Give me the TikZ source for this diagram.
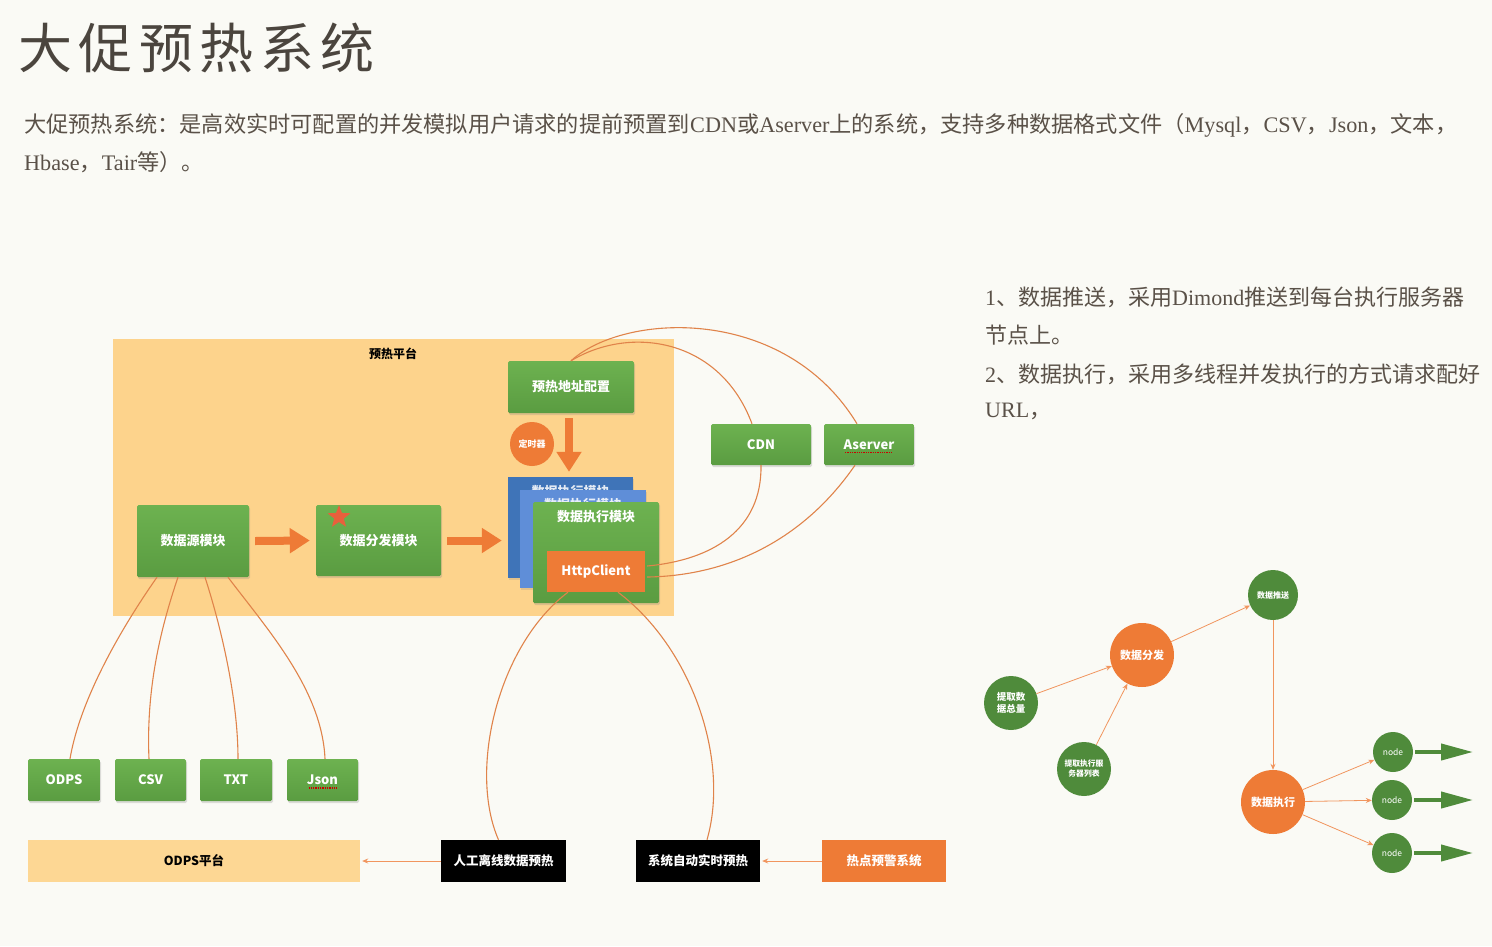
\documentclass[tikz,border=0pt]{standalone}
\usepackage{fontspec}
\setmainfont{Liberation Serif}
\newfontfamily\cjk{Noto Sans CJK SC}
\usetikzlibrary{arrows.meta,shapes.geometric,shadows}
\definecolor{bg}{HTML}{FAFAF5}
\definecolor{plat}{HTML}{FDD38C}
\definecolor{gtop}{HTML}{6DB250}
\definecolor{gbot}{HTML}{5A9C41}
\definecolor{org}{HTML}{EE7B36}
\definecolor{curvec}{HTML}{E0834A}
\definecolor{dgreen}{HTML}{4F8B3B}
\definecolor{blueA}{HTML}{3F74B8}
\definecolor{blueB}{HTML}{5F8ED8}
\definecolor{txt}{HTML}{5A5148}
\definecolor{ttl}{HTML}{4B453E}
\definecolor{odpsc}{HTML}{FDD794}
\definecolor{starc}{HTML}{E8603C}
\newcommand\zh[1]{{\cjk #1}}
\begin{document}
\begin{tikzpicture}[x=1pt,y=-1pt,
  gbox/.style={rectangle, rounded corners=1.5pt, top color=gtop, bottom color=gbot, draw=none,
    text=white, font=\cjk\bfseries\fontsize{13}{15}\selectfont, inner sep=0pt,
    drop shadow={opacity=0.25,shadow xshift=1pt,shadow yshift=-2pt}},
  plain/.style={rectangle, draw=none, inner sep=0pt},
  blackbox/.style={rectangle, fill=black, text=white, inner sep=0pt, minimum width=125pt, minimum height=42pt,
    font=\cjk\bfseries\fontsize{12.5}{14}\selectfont},
  curve/.style={draw=curvec, line width=1.1pt},
  bigarrow/.style={draw=org, line width=8pt, -{Triangle[length=20pt,width=24pt]}},
  thinarrow/.style={draw=org!80!white, line width=0.8pt, -{Stealth[length=6pt,width=5pt]}},
  gcirc/.style={circle, fill=dgreen, text=white, inner sep=0pt, align=center},
  ocirc/.style={circle, fill=org, text=white, inner sep=0pt, align=center},
  garrow/.style={draw=dgreen, line width=4pt, -{Triangle[length=32pt,width=16pt]}},
  squig/.style={draw=red!80!black, densely dotted, line width=1.3pt},
  para/.style={anchor=west, text=txt, inner sep=0pt, font=\fontsize{22.2}{25}\selectfont},
  side/.style={anchor=west, text=txt, inner sep=0pt, font=\fontsize{22}{25}\selectfont}
]
\useasboundingbox (0,0) rectangle (1492,946);
\fill[bg] (0,0) rectangle (1492,946);

% title and description
\node[anchor=west, text=ttl, inner sep=0pt] (title) at (18,48)
  {\cjk\fontsize{54}{60}\selectfont\addfontfeatures{LetterSpace=12}大促预热系统};
\node[para] (d1) at (24,125) {\zh{大促预热系统：是高效实时可配置的并发模拟用户请求的提前预置到}CDN\zh{或}Aserver\zh{上的系统，支持多种数据格式文件（}Mysql\zh{，}CSV\zh{，}Json\zh{，文本，}};
\node[para] (d2) at (24,162) {Hbase\zh{，}Tair\zh{等）。}};

% right side text
\node[side] (s1) at (985,297) {1\zh{、数据推送，采用}Dimond\zh{推送到每台执行服务器}};
\node[side] (s2) at (985,335) {\zh{节点上。}};
\node[side] (s3) at (985,374) {2\zh{、数据执行，采用多线程并发执行的方式请求配好}};
\node[side] (s4) at (985,411) {URL\zh{，}};

% platform
\node[plain, fill=plat, minimum width=561pt, minimum height=277pt] (plat) at (393.5,477.5) {};
\node[inner sep=0pt, font=\cjk\bfseries\fontsize{12}{14}\selectfont] (plattitle) at (393,354) {预热平台};

\node[gbox, minimum width=126pt, minimum height=52pt] (cfg) at (571,387) {预热地址配置};
\node[gbox, minimum width=112pt, minimum height=72pt] (src) at (193,541) {数据源模块};
\node[gbox, minimum width=125pt, minimum height=71pt] (dist) at (378.5,540.5) {数据分发模块};
\node[star, star points=5, star point ratio=2.4, fill=starc, inner sep=0pt, minimum size=24pt] (star) at (339,517) {};

% stacked execution modules
\node[plain, fill=blueA, minimum width=125pt, minimum height=101pt,
  drop shadow={opacity=0.2,shadow xshift=1pt,shadow yshift=-2pt}] (execA) at (570.5,527.5) {};
\node[inner sep=0pt, text=white!85!blueA, font=\cjk\bfseries\fontsize{13}{15}\selectfont] (execAt) at (570.5,492) {数据执行模块};
\node[plain, fill=blueB, minimum width=126pt, minimum height=98pt,
  drop shadow={opacity=0.2,shadow xshift=1pt,shadow yshift=-2pt}] (execB) at (583,539) {};
\node[inner sep=0pt, text=white!85!blueB, font=\cjk\bfseries\fontsize{13}{15}\selectfont] (execBt) at (583,505) {数据执行模块};
\node[gbox, minimum width=126pt, minimum height=101pt] (exec) at (596,552.5) {};
\node[inner sep=0pt, text=white, font=\cjk\bfseries\fontsize{13}{15}\selectfont] (exect) at (596,517) {数据执行模块};
\node[plain, fill=org, minimum width=98pt, minimum height=41pt, text=white,
  font=\cjk\bfseries\fontsize{13}{15}\selectfont] (http) at (596,571.5) {HttpClient};

\node[ocirc, minimum size=44pt, font=\cjk\bfseries\fontsize{9}{10}\selectfont] (timer) at (532,444) {定时器};

\draw[bigarrow] ([xshift=6pt]src.east) -- ([xshift=-6pt]dist.east -| dist.west);
\draw[bigarrow] ([xshift=6pt]dist.east) -- ([xshift=-6pt]dist.east -| execA.west);
\draw[bigarrow] ([xshift=-2pt,yshift=-5pt]cfg.south) -- ([xshift=-1.5pt,yshift=5pt]execA.north);

% CDN / Aserver
\node[gbox, minimum width=100pt, minimum height=41pt] (cdn) at (761,444.5) {CDN};
\node[gbox, minimum width=90pt, minimum height=41pt] (aserver) at (869,444.5) {Aserver};
\draw[squig] ([xshift=-24pt,yshift=-8pt]aserver.center) -- ([xshift=24pt,yshift=-8pt]aserver.center);

\draw[curve] (cfg.north) .. controls (625,312) and (785,305) .. ([xshift=-12pt]aserver.north);
\draw[curve] (cfg.north) .. controls (630,325) and (720,338) .. ([xshift=-9pt]cdn.north);
\draw[curve] (cdn.south) .. controls (762,530) and (712,560) .. ([xshift=2pt,yshift=5.5pt]http.east);
\draw[curve] ([xshift=-14pt]aserver.south) .. controls (800,545) and (722,576) .. ([xshift=2pt,yshift=-5.5pt]http.east);

% data sources
\node[gbox, minimum width=72pt, minimum height=42pt] (odps) at (64,780) {ODPS};
\node[gbox, minimum width=71pt, minimum height=42pt] (csv) at (150.5,780) {CSV};
\node[gbox, minimum width=72pt, minimum height=42pt] (txtb) at (236,780) {TXT};
\node[gbox, minimum width=71pt, minimum height=42pt] (json) at (322.5,780) {Json};
\draw[squig] ([xshift=-14pt,yshift=-8pt]json.center) -- ([xshift=14pt,yshift=-8pt]json.center);

\draw[curve] ([xshift=-36pt]src.south) .. controls (120,630) and (80,700) .. ([xshift=6pt]odps.north);
\draw[curve] ([xshift=-15pt]src.south) .. controls (160,630) and (146,690) .. ([xshift=-1.5pt]csv.north);
\draw[curve] ([xshift=12pt]src.south) .. controls (222,630) and (238,700) .. ([xshift=2pt]txtb.north);
\draw[curve] ([xshift=35pt]src.south) .. controls (268,630) and (322,690) .. ([xshift=2.5pt]json.north);

% bottom row
\node[plain, fill=odpsc, minimum width=332pt, minimum height=42pt,
  font=\cjk\bfseries\fontsize{12.5}{14}\selectfont] (odpsplat) at (194,861) {ODPS平台};
\node[blackbox] (manual) at (503.5,861) {人工离线数据预热};
\node[blackbox, minimum width=124pt] (auto) at (698,861) {系统自动实时预热};
\node[blackbox, fill=org, minimum width=124pt] (hot) at (884,861) {热点预警系统};

\draw[thinarrow] (manual.west) -- ([xshift=2pt]odpsplat.east);
\draw[thinarrow] (hot.west) -- ([xshift=2pt]auto.east);

\draw[curve] ([xshift=-28pt]http.south) .. controls (498,645) and (468,770) .. ([xshift=-5pt]manual.north);
\draw[curve] ([xshift=22pt]http.south) .. controls (692,648) and (730,760) .. ([xshift=9pt]auto.north);

% right graph
\node[gcirc, minimum size=50pt, font=\cjk\bfseries\fontsize{8}{9}\selectfont] (push) at (1273,595) {数据推送};
\node[ocirc, minimum size=64pt, font=\cjk\bfseries\fontsize{11}{12}\selectfont] (distr) at (1142,655) {数据分发};
\node[gcirc, minimum size=54pt, font=\cjk\bfseries\fontsize{9.5}{12}\selectfont] (total) at (1011,703) {提取数\\据总量};
\node[gcirc, minimum size=54pt, font=\cjk\bfseries\fontsize{7.8}{10}\selectfont] (list) at (1084,769) {提取执行服\\务器列表};
\node[ocirc, minimum size=64pt, font=\cjk\bfseries\fontsize{11}{12}\selectfont] (execc) at (1273,802) {数据执行};
\node[gcirc, minimum size=40pt, font=\cjk\fontsize{8.5}{10}\selectfont] (n1) at (1393,752) {node};
\node[gcirc, minimum size=40pt, font=\cjk\fontsize{8.5}{10}\selectfont] (n2) at (1392,800) {node};
\node[gcirc, minimum size=40pt, font=\cjk\fontsize{8.5}{10}\selectfont] (n3) at (1392,853) {node};
\coordinate (e1) at (1473,752);
\coordinate (e2) at (1473,800);
\coordinate (e3) at (1473,853);

\draw[thinarrow] (total) -- (distr);
\draw[thinarrow] (list) -- (distr);
\draw[thinarrow] (distr) -- (push);
\draw[thinarrow] (push) -- (execc);
\draw[thinarrow] (execc) -- (n1);
\draw[thinarrow] (execc) -- (n2);
\draw[thinarrow] (execc) -- (n3);
\draw[garrow] ([xshift=2pt]n1.east) -- (e1);
\draw[garrow] ([xshift=2pt]n2.east) -- (e2);
\draw[garrow] ([xshift=2pt]n3.east) -- (e3);
\end{tikzpicture}
\end{document}
